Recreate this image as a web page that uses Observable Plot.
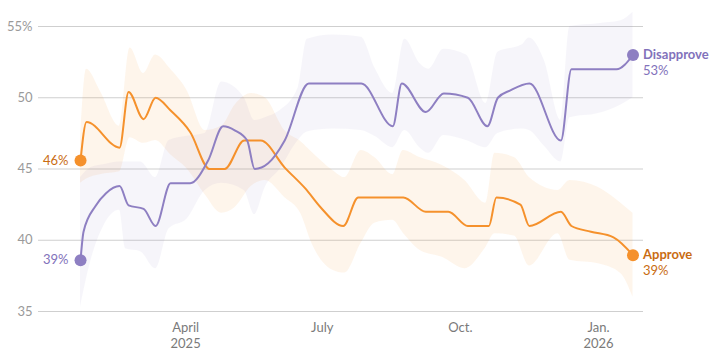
<!DOCTYPE html>
<html>
<head>
<meta charset="utf-8">
<script src="https://cdn.jsdelivr.net/npm/d3@7"></script>
<script src="https://cdn.jsdelivr.net/npm/@observablehq/plot@0.6"></script>
<style>
  html, body { margin: 0; padding: 0; background: #fff; }
  #chart svg { display: block; }
</style>
</head>
<body>
<div id="chart"></div>
<script>
// ---- Data ----
const approveDates = ["2025-01-21","2025-01-25","2025-02-16","2025-02-22","2025-03-04","2025-03-12","2025-03-22","2025-04-04","2025-04-17","2025-04-27","2025-05-10","2025-05-21","2025-06-06","2025-06-20","2025-06-30","2025-07-15","2025-07-25","2025-08-24","2025-09-08","2025-09-23","2025-10-06","2025-10-20","2025-10-25","2025-11-10","2025-11-16","2025-12-07","2025-12-14","2025-12-27","2026-01-11","2026-01-24"];
const approveValues = [45.6, 48.3, 46.5, 50.4, 48.5, 50.0, 49.1, 47.6, 45.0, 45.0, 47.0, 47.0, 45.1, 43.6, 42.3, 41.0, 43.0, 43.0, 42.0, 42.0, 41.0, 41.0, 43.0, 42.5, 41.0, 42.0, 41.0, 40.6, 40.2, 38.95];

const disapproveDates = ["2025-01-21","2025-01-23","2025-01-31","2025-02-07","2025-02-16","2025-02-22","2025-03-04","2025-03-12","2025-03-22","2025-04-04","2025-04-16","2025-04-26","2025-05-04","2025-05-12","2025-05-17","2025-05-26","2025-06-06","2025-06-22","2025-07-27","2025-08-17","2025-08-23","2025-09-08","2025-09-20","2025-10-06","2025-10-19","2025-10-26","2025-11-03","2025-11-16","2025-12-07","2025-12-14","2026-01-13","2026-01-24"];
const disapproveValues = [38.6, 40.6, 42.4, 43.3, 43.8, 42.45, 42.2, 41.0, 44.0, 44.0, 45.6, 48.0, 47.7, 47.0, 45.0, 45.4, 47.0, 51.0, 51.0, 48.0, 51.0, 49.0, 50.3, 50.0, 48.0, 50.0, 50.5, 51.0, 47.0, 52.0, 52.0, 53.0];

const approveBandDates = ["2025-01-21","2025-01-25","2025-02-03","2025-02-16","2025-02-23","2025-03-04","2025-03-12","2025-03-22","2025-04-02","2025-04-14","2025-04-25","2025-05-04","2025-05-15","2025-05-24","2025-06-06","2025-06-17","2025-06-24","2025-07-08","2025-07-16","2025-07-27","2025-08-05","2025-08-17","2025-08-24","2025-09-04","2025-09-19","2025-10-04","2025-10-18","2025-10-24","2025-11-06","2025-11-16","2025-12-05","2025-12-13","2026-01-01","2026-01-16","2026-01-24"];
const approveUpper = [47.0, 52.0, 50.5, 48.0, 53.5, 51.7, 53.0, 52.0, 50.5, 47.7, 48.0, 49.5, 50.3, 50.0, 47.7, 46.9, 46.2, 44.9, 44.4, 46.3, 45.8, 44.6, 46.3, 45.8, 45.25, 44.2, 42.6, 46.1, 45.8, 44.4, 43.5, 44.2, 43.7, 42.6, 41.9];
const approveLower = [44.0, 44.3, 44.6, 44.8, 47.2, 46.8, 47.0, 46.0, 45.0, 43.2, 41.9, 42.3, 43.8, 44.2, 43.0, 41.8, 39.8, 37.9, 37.7, 39.8, 41.2, 41.4, 40.5, 39.3, 38.8, 38.0, 39.5, 40.45, 40.3, 38.2, 40.45, 38.6, 38.35, 37.65, 36.0];

const disapproveBandDates = ["2025-01-21","2025-01-28","2025-02-05","2025-02-16","2025-02-20","2025-03-02","2025-03-12","2025-03-21","2025-04-02","2025-04-14","2025-04-25","2025-05-10","2025-05-17","2025-05-24","2025-06-03","2025-06-15","2025-06-21","2025-07-08","2025-07-27","2025-08-05","2025-08-17","2025-08-25","2025-09-04","2025-09-10","2025-09-20","2025-10-05","2025-10-18","2025-10-26","2025-11-11","2025-11-16","2025-11-26","2025-12-07","2025-12-13","2026-01-01","2026-01-16","2026-01-24"];
const disapproveUpper = [44.4, 45.1, 45.3, 45.5, 45.5, 45.5, 44.4, 47.0, 47.3, 47.5, 51.1, 50.0, 48.4, 48.6, 49.1, 50.7, 54.1, 54.4, 54.25, 52.1, 50.3, 54.1, 52.4, 52.0, 53.4, 53.0, 49.6, 53.2, 53.7, 54.2, 52.6, 48.4, 55.0, 55.2, 55.4, 56.0];
const disapproveLower = [35.3, 38.6, 40.9, 42.1, 39.4, 39.2, 38.0, 40.8, 41.5, 43.5, 44.0, 43.5, 41.8, 43.7, 45.0, 47.0, 47.6, 47.8, 47.7, 47.3, 46.5, 47.7, 46.5, 46.1, 47.35, 47.0, 46.5, 47.5, 47.8, 47.7, 46.6, 45.5, 48.6, 48.9, 49.5, 50.0];

const yTicks = [35, 40, 45, 50, 55];
const xTickDates = ["2025-04-01", "2025-07-01", "2025-10-01", "2026-01-01"];
const xTickLabels = ["April\n2025", "July", "Oct.", "Jan.\n2026"];
const seriesNames = ["Approve", "Disapprove"];

// ---- Build tables ----
const toRows = (dates, vals) => dates.map((d, i) => ({date: new Date(d), value: vals[i]}));
const toBand = (dates, lo, hi) => dates.map((d, i) => ({date: new Date(d), lo: lo[i], hi: hi[i]}));

const approve = toRows(approveDates, approveValues);
const disapprove = toRows(disapproveDates, disapproveValues);
const approveBand = toBand(approveBandDates, approveLower, approveUpper);
const disapproveBand = toBand(disapproveBandDates, disapproveLower, disapproveUpper);

const ORANGE = "#f5912c";
const ORANGE_TEXT = "#c96c12";
const PURPLE = "#8e7fc2";
const PURPLE_TEXT = "#8272bb";
const FONT = "Lato, 'Open Sans', sans-serif";

const first = a => [a[0]];
const last = a => [a[a.length - 1]];
const pct = d => `${Math.round(d.value)}%`;

const chart = Plot.plot({
  width: 725,
  height: 362,
  marginTop: 26,
  marginBottom: 51,
  marginLeft: 38,
  marginRight: 82,
  style: {fontFamily: FONT, background: "#fff", overflow: "visible"},
  x: {type: "utc", domain: [new Date("2024-12-24"), new Date("2026-01-31")]},
  y: {domain: [35, 55]},
  marks: [
    Plot.ruleY(yTicks, {stroke: "#cfcfcf", strokeWidth: 1}),
    Plot.areaY(approveBand, {x: "date", y1: "lo", y2: "hi", fill: "#f7941d", fillOpacity: 0.09, curve: "monotone-x"}),
    Plot.areaY(disapproveBand, {x: "date", y1: "lo", y2: "hi", fill: "#8b7bc0", fillOpacity: 0.08, curve: "monotone-x"}),
    Plot.axisY(yTicks, {
      tickSize: 0, tickPadding: 6, fontSize: 13, color: "#9a9a9a",
      tickFormat: d => d === 55 ? "55%" : String(d), label: null
    }),
    Plot.axisX(xTickDates.map(d => new Date(d)), {
      tickSize: 0, tickPadding: 9, fontSize: 13, color: "#7a7a7a", lineHeight: 1.25,
      tickFormat: d => xTickLabels[xTickDates.findIndex(t => +new Date(t) === +d)], label: null
    }),
    Plot.line(approve, {x: "date", y: "value", stroke: ORANGE, strokeWidth: 2, curve: "monotone-x"}),
    Plot.line(disapprove, {x: "date", y: "value", stroke: PURPLE, strokeWidth: 2, curve: "monotone-x"}),
    // dots at start and end
    Plot.dot([...first(approve), ...last(approve)], {x: "date", y: "value", r: 6, fill: ORANGE}),
    Plot.dot([...first(disapprove), ...last(disapprove)], {x: "date", y: "value", r: 6, fill: PURPLE}),
    // start labels
    Plot.text(first(approve), {x: "date", y: "value", text: pct, textAnchor: "end", dx: -12, fill: ORANGE_TEXT, fontSize: 13}),
    Plot.text(first(disapprove), {x: "date", y: "value", text: pct, textAnchor: "end", dx: -12, fill: PURPLE_TEXT, fontSize: 13}),
    // end labels
    Plot.text(last(disapprove), {x: "date", y: "value", text: () => seriesNames[1], textAnchor: "start", dx: 10, fill: PURPLE_TEXT, fontSize: 13, fontWeight: "bold"}),
    Plot.text(last(disapprove), {x: "date", y: "value", text: pct, textAnchor: "start", dx: 10, dy: 16, fill: PURPLE_TEXT, fontSize: 13}),
    Plot.text(last(approve), {x: "date", y: "value", text: () => seriesNames[0], textAnchor: "start", dx: 10, fill: ORANGE_TEXT, fontSize: 13, fontWeight: "bold"}),
    Plot.text(last(approve), {x: "date", y: "value", text: pct, textAnchor: "start", dx: 10, dy: 16, fill: ORANGE_TEXT, fontSize: 13})
  ]
});
document.getElementById("chart").appendChild(chart);
</script>
</body>
</html>
